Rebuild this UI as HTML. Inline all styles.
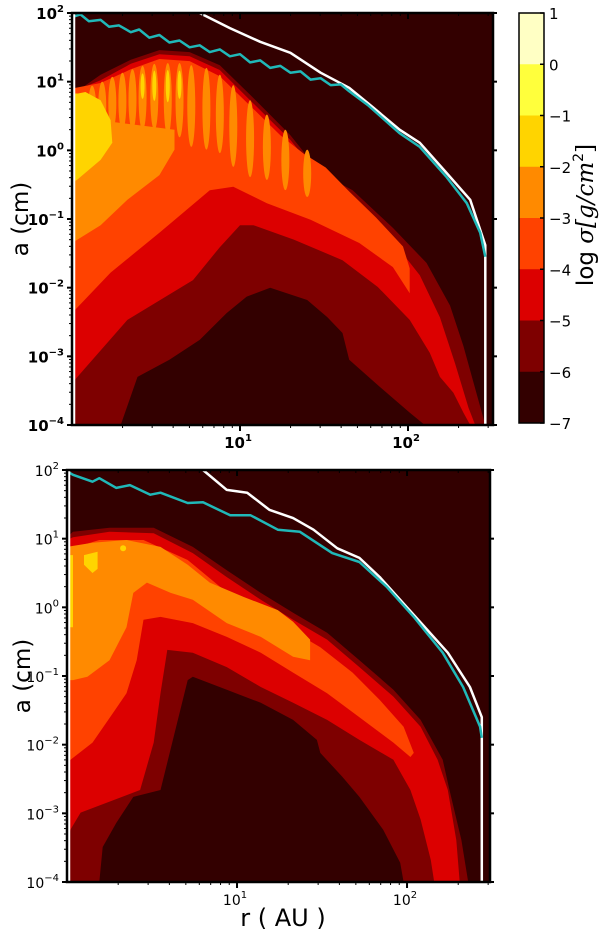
<!DOCTYPE html>
<html><head><meta charset="utf-8">
<style>
html,body{margin:0;padding:0;background:#fff;}
svg{display:block;}
text{font-family:"DejaVu Sans","Liberation Sans",sans-serif;}
</style></head>
<body>
<svg id="chart" width="600" height="935" viewBox="0 0 600 935" xmlns="http://www.w3.org/2000/svg"></svg>
<script>
// ---- data (log10 r [AU], log10 a [cm]) ----
const levelValues = [1,0,-1,-2,-3,-4,-5,-6,-7];
const levelColors = ['#ffffc4','#ffff3c','#ffd400','#ff8a00','#ff4200','#dc0000','#7e0000','#330000'];

// top panel contour regions
const topL6 = [0,-4, 0,0.81, .17,1.10, .35,1.32, .52,1.46, .70,1.43, .88,1.24, 1.06,.81, 1.30,.22, 1.48,-.33, 1.67,-.58, 1.91,-1.13, 2.11,-1.64, 2.25,-2.26, 2.33,-2.85, 2.41,-3.56, 2.46,-4,
  2.10,-4, 2.01,-3.82, 1.83,-3.44, 1.65,-3.05, 1.61,-2.66, 1.52,-2.43, 1.40,-2.18, 1.18,-2.00, 1.04,-2.13, .92,-2.37, .76,-2.76, .58,-3.05, .39,-3.30, .29,-4];
const topL5 = [0,-3.39, 0,.85, .17,1.02, .35,1.26, .52,1.40, .70,1.37, .88,1.17, 1.06,.73, 1.30,.15, 1.48,-.39, 1.65,-.70, 1.89,-1.26, 2.07,-1.82, 2.19,-2.43, 2.28,-3.10, 2.36,-3.75, 2.40,-4,
  2.37,-4, 2.33,-3.82, 2.27,-3.53, 2.19,-3.30, 2.13,-2.95, 2.01,-2.47, 1.82,-1.99, 1.61,-1.60, 1.32,-1.30, 1.08,-1.09, 1.0,-1.09, .88,-1.41, .72,-1.89, .33,-2.47];
const topL4 = [0,-2.37, 0,.90, .17,.98, .35,1.18, .52,1.33, .70,1.30, .88,1.08, 1.06,.65, 1.24,.22, 1.38,-.05, 1.51,-.25, 1.65,-.60, 1.81,-.98, 1.97,-1.40, 2.01,-1.72, 2.01,-2.08,
  1.91,-1.70, 1.71,-1.35, 1.42,-1.01, 1.16,-.77, .96,-.53, .82,-.58, .52,-1.20, .23,-1.78];
const topL3 = [0,.85, .08,.80, .12,.45, .61,.30, .61,.01, .52,-.36, .33,-.72, .17,-1.09, 0,-1.35];
const topL2 = [0,.81, .08,.85, .17,.73, .23,.44, .24,.11, .17,-.14, .03,-.43, 0,-.47];
// oscillating fingers (log r centre, top log a, bottom log a)
const fingerR   = [.12, .18, .24, .30, .36, .42, .49, .57, .64, .71, .80, .88, .96, 1.06, 1.16, 1.27, 1.40];
const fingerTop = [.94, 1.0, 1.07, 1.13, 1.18, 1.23, 1.26, 1.27, 1.27, 1.24, 1.20, 1.10, .95, .73, .52, .30, .01];
const fingerBot = [.30, .30, .30, .30, .30, .30, .30, .22, .19, .05, .01, -.04, -.24, -.39, -.43, -.58, -.68];
const coreR   = [.42, .49, .57, .64];
const coreTop = [1.12, 1.16, 1.17, 1.16];
const coreBot = [.75, .72, .70, .75];
// top panel limits
const topWhiteR = [.76, .94, 1.12, 1.30, 1.48, 1.65, 1.79, 1.95, 2.07, 2.23, 2.37, 2.46, 2.46];
const topWhiteA = [2.0, 1.78, 1.58, 1.42, 1.13, .91, .63, .30, .11, -.33, -.72, -1.38, -4];
const topCyanR = [0, .05, .10, .17, .22, .28, .35, .40, .46, .52, .58, .64, .70, .76, .82, .88, .94, 1.0, 1.06, 1.12, 1.18, 1.24, 1.30, 1.36, 1.42, 1.48, 1.54, 1.60, 1.65, 1.76, 1.95, 2.07, 2.23, 2.35, 2.43, 2.46];
const topCyanA = [1.94, 1.98, 1.88, 1.90, 1.80, 1.82, 1.72, 1.76, 1.64, 1.68, 1.57, 1.60, 1.50, 1.53, 1.43, 1.47, 1.37, 1.40, 1.28, 1.31, 1.20, 1.23, 1.13, 1.15, 1.03, 1.05, .95, .96, .86, .66, .25, .05, -.39, -.77, -1.20, -1.55];

// bottom panel contour regions
const botL6 = [0,-4, 0,1.02, .035,1.10, .25,1.16, .51,1.16, .74,.88, .94,.54, 1.14,.21, 1.33,-.08, 1.53,-.37, 1.72,-.77, 1.92,-1.20, 2.08,-1.64, 2.21,-2.22, 2.25,-2.66, 2.32,-3.39, 2.36,-4];
const botL5 = [0,-3.49, 0,.98, .035,1.02, .25,1.10, .51,1.08, .74,.79, .94,.44, 1.14,.11, 1.33,-.18, 1.53,-.47, 1.72,-.87, 1.92,-1.30, 2.08,-1.74, 2.18,-2.22, 2.24,-2.66, 2.29,-3.39, 2.31,-4,
  2.16,-4, 2.14,-3.68, 2.08,-3.09, 2.02,-2.66, 1.92,-2.22, 1.72,-1.93, 1.53,-1.64, 1.33,-1.39, 1.14,-1.16, .94,-.87, .74,-.66, .59,-.62, .55,-1.25, .51,-1.97, .43,-2.66, .08,-2.99, .02,-3.24];
const botL4 = [0,-2.26, 0,.84, .19,.98, .45,.98, .71,.69, .90,.30, 1.09,.01, 1.29,-.29, 1.49,-.58, 1.68,-.95, 1.84,-1.35, 1.98,-1.74, 2.04,-2.12,
  2.02,-2.18, 1.92,-1.97, 1.72,-1.60, 1.53,-1.25, 1.33,-.95, 1.14,-.66, .94,-.43, .74,-.23, .55,-.14, .45,-.18, .41,-.77, .35,-1.25, .27,-1.54, .15,-1.97];
const botL3 = [0,-1.06, 0,.88, .15,.94, .35,.98, .55,.88, .71,.62, .84,.36, 1.04,.15, 1.24,-.04, 1.33,-.21, 1.43,-.47, 1.43,-.77,
  1.33,-.72, 1.14,-.43, .94,-.23, .74,.11, .61,.21, .47,.36, .39,.21, .35,-.29, .25,-.77, .12,-1.01, .035,-1.06];
const botL2a = [0,.76, .035,.76, .035,-.29, 0,-.29];
const botL2b = [.10,.76, .18,.81, .18,.56, .15,.50, .10,.62];
const botHole = [.19,-4, .21,-3.49, .29,-3.14, .39,-2.76, .55,-2.66, .71,-1.06, .74,-1.01, .94,-1.20, 1.14,-1.39, 1.33,-1.64, 1.47,-1.93, 1.49,-2.12, 1.62,-2.47, 1.72,-2.76, 1.86,-3.24, 1.96,-3.72, 1.98,-4];
const botCyanR = [0, .035, .15, .19, .29, .37, .49, .55, .71, .80, .96, 1.08, 1.24, 1.37, 1.56, 1.72, 1.88, 2.04, 2.21, 2.33, 2.43, 2.44];
const botCyanA = [1.98, 1.93, 1.83, 1.88, 1.74, 1.78, 1.64, 1.67, 1.52, 1.53, 1.34, 1.34, 1.13, 1.10, .79, .66, .30, -.14, -.66, -1.16, -1.74, -1.90];
const botWhiteR = [.80, .94, 1.06, 1.19, 1.33, 1.45, 1.59, 1.72, 1.84, 1.96, 2.12, 2.24, 2.37, 2.44, 2.44];
const botWhiteA = [2.0, 1.71, 1.67, 1.42, 1.30, 1.13, .86, .72, .44, .11, -.33, -.66, -1.16, -1.60, -4];

const yTicks = [2,1,0,-1,-2,-3,-4];
const xTicks = [1,2];

// ---- rendering ----
const NS='http://www.w3.org/2000/svg';
const svg=document.getElementById('chart');
function mk(tag,attrs,parent){const e=document.createElementNS(NS,tag);for(const k in attrs)e.setAttribute(k,attrs[k]);(parent||svg).appendChild(e);return e;}

function makePanel(x0,x1,y0,y1,rMax){
  return {x0,x1,y0,y1,
    sx:v=>x0+v*((x1-x0)/rMax),
    sy:v=>y0+(2-v)*((y1-y0)/6)};
}
const P1=makePanel(72,493,13,425,2.506);
const P2=makePanel(67,490,470,882,2.488);

function polyPts(p,arr){let s=[];for(let i=0;i<arr.length;i+=2)s.push(p.sx(arr[i]).toFixed(1)+','+p.sy(arr[i+1]).toFixed(1));return s.join(' ');}
function linePts(p,rs,as){return rs.map((r,i)=>p.sx(r).toFixed(1)+','+p.sy(as[i]).toFixed(1)).join(' ');}

function drawRegion(g,p,arr,color,name){
  const e=mk('polygon',{points:polyPts(p,arr),fill:color},g);
  
  
}
function drawFingers(g,p,rs,tops,bots,color,halfW,name){
  rs.forEach((r,i)=>{
    const cx=p.sx(r),yt=p.sy(tops[i]),yb=p.sy(bots[i]);
    const e=mk('ellipse',{cx:cx,cy:(yt+yb)/2,rx:halfW,ry:(yb-yt)/2,fill:color},g);
    
    
  });
}
function drawLine(g,p,rs,as,color,w,name){
  const e=mk('polyline',{points:linePts(p,rs,as),fill:'none',stroke:color,'stroke-width':w,'stroke-linejoin':'round'},g);
  
  
}

function drawAxes(p,boldLabels,prefix){
  const g=mk('g',{});
  
  
  mk('line',{x1:p.x0+2,y1:p.y0,x2:p.x0+2,y2:p.y1,stroke:'#fff','stroke-width':2.5},g);
  mk('rect',{x:p.x0,y:p.y0,width:p.x1-p.x0,height:p.y1-p.y0,fill:'none',stroke:'#000','stroke-width':2.5},g);
  yTicks.forEach(t=>{
    const y=p.sy(t);
    mk('line',{x1:p.x0-5,y1:y,x2:p.x0,y2:y,stroke:'#000','stroke-width':2},g);
    mk('line',{x1:p.x1,y1:y,x2:p.x1+4,y2:y,stroke:'#000','stroke-width':2},g);
    if(t>-4){for(let m=2;m<10;m++){const ym=p.sy(t-1+Math.log10(m));mk('line',{x1:p.x0-3,y1:ym,x2:p.x0,y2:ym,stroke:'#000','stroke-width':1},g);}}
    const tx=mk('text',{x:p.x0-8,y:y+6,'text-anchor':'end','font-size':boldLabels?15:14,'font-weight':boldLabels?'bold':'normal',fill:'#000'},g);
    
    
    tx.textContent='10';
    const sp=document.createElementNS(NS,'tspan');sp.setAttribute('dy','-7');sp.setAttribute('font-size','10');sp.textContent=(t<0?'\u2212':'')+Math.abs(t);tx.appendChild(sp);
  });
  for(let d=0;d<3;d++){for(let m=1;m<10;m++){const v=d+Math.log10(m);const x=p.sx(v);if(x<=p.x0+1||x>=p.x1)continue;
    const len=m===1?6:3;
    mk('line',{x1:x,y1:p.y1,x2:x,y2:p.y1+len,stroke:'#000','stroke-width':m===1?2:1},g);
    mk('line',{x1:x,y1:p.y0,x2:x,y2:p.y0+len,stroke:'#000','stroke-width':m===1?2:1},g);}}
  xTicks.forEach(t=>{
    const tx=mk('text',{x:p.sx(t)-2,y:p.y1+23,'text-anchor':'middle','font-size':boldLabels?15:14,'font-weight':boldLabels?'bold':'normal'},g);
    
    
    tx.textContent='10';
    const sp=document.createElementNS(NS,'tspan');sp.setAttribute('dy','-7');sp.setAttribute('font-size','10');sp.textContent=t;tx.appendChild(sp);
  });
  const yl=mk('text',{x:0,y:0,transform:`translate(${prefix==='top'?28:30},${(p.y0+p.y1)/2}) rotate(-90)`,'text-anchor':'middle','font-size':23,fill:'#000'},g);
  
  
  yl.textContent='a (cm)';
}

// top panel
const g1=mk('g',{});


mk('rect',{x:P1.x0,y:P1.y0,width:P1.x1-P1.x0,height:P1.y1-P1.y0,fill:levelColors[7]},g1);
drawRegion(g1,P1,topL6,levelColors[6],'top-level-minus6');
drawRegion(g1,P1,topL5,levelColors[5],'top-level-minus5');
drawRegion(g1,P1,topL4,levelColors[4],'top-level-minus4');
drawRegion(g1,P1,topL3,levelColors[3],'top-level-minus3');
drawFingers(g1,P1,fingerR,fingerTop,fingerBot,levelColors[3],4,'top-finger');
drawRegion(g1,P1,topL2,levelColors[2],'top-level-minus2');
drawFingers(g1,P1,coreR,coreTop,coreBot,levelColors[2],2,'top-finger-core');
drawLine(g1,P1,topWhiteR,topWhiteA,'#fff',2.5,'top-white-limit-line');
drawLine(g1,P1,topCyanR,topCyanA,'#20b8b8',2.5,'top-cyan-limit-line');
drawAxes(P1,true,'top');

// bottom panel
const g2=mk('g',{});


mk('rect',{x:P2.x0,y:P2.y0,width:P2.x1-P2.x0,height:P2.y1-P2.y0,fill:levelColors[7]},g2);
drawRegion(g2,P2,botL6,levelColors[6],'bottom-level-minus6');
drawRegion(g2,P2,botL5,levelColors[5],'bottom-level-minus5');
drawRegion(g2,P2,botL4,levelColors[4],'bottom-level-minus4');
drawRegion(g2,P2,botL3,levelColors[3],'bottom-level-minus3');
drawRegion(g2,P2,botL2a,levelColors[2],'bottom-level-minus2-strip');
drawRegion(g2,P2,botL2b,levelColors[2],'bottom-level-minus2-blob');
drawRegion(g2,P2,botHole,levelColors[7],'bottom-level-minus7-hole');
const dot=mk('circle',{cx:P2.sx(.33),cy:P2.sy(.86),r:3,fill:levelColors[2]},g2);


drawLine(g2,P2,botWhiteR,botWhiteA,'#fff',2.5,'bottom-white-limit-line');
drawLine(g2,P2,botCyanR,botCyanA,'#20b8b8',2.5,'bottom-cyan-limit-line');
drawAxes(P2,false,'bottom');

const xl=mk('text',{x:283,y:926,'text-anchor':'middle','font-size':24,'font-family':'Liberation Sans, sans-serif'});


xl.textContent='r ( AU )';

// colorbar
const cb=mk('g',{});


const cbX=519,cbW=25,cbY0=13,cbY1=423;
const cbS=v=>cbY0+(1-v)*((cbY1-cbY0)/8);
levelColors.forEach((c,i)=>{
  const r=mk('rect',{x:cbX,y:cbS(levelValues[i]),width:cbW,height:cbS(levelValues[i+1])-cbS(levelValues[i])+0.5,fill:c},cb);
  
  
});
mk('rect',{x:cbX,y:cbY0,width:cbW,height:cbY1-cbY0,fill:'none',stroke:'#000','stroke-width':1.5},cb);
levelValues.forEach(v=>{
  const y=cbS(v);
  mk('line',{x1:cbX+cbW-4,y1:y,x2:cbX+cbW,y2:y,stroke:'#000','stroke-width':1.5},cb);
  const t=mk('text',{x:cbX+cbW+5,y:y+6,'font-size':15,fill:'#000'},cb);
  
  
  t.textContent=(v<0?'\u2212':'')+Math.abs(v);
});
const ct=mk('text',{x:0,y:0,transform:'translate(593,215) rotate(-90)','text-anchor':'middle','font-size':23,fill:'#000','font-family':'DejaVu Sans, sans-serif'},cb);


ct.innerHTML='log <tspan font-family="DejaVu Serif, serif" font-style="italic">σ[g/cm</tspan><tspan font-size="14" dy="-10">2</tspan><tspan font-family="DejaVu Serif, serif" dy="10">]</tspan>';
</script>
</body></html>
